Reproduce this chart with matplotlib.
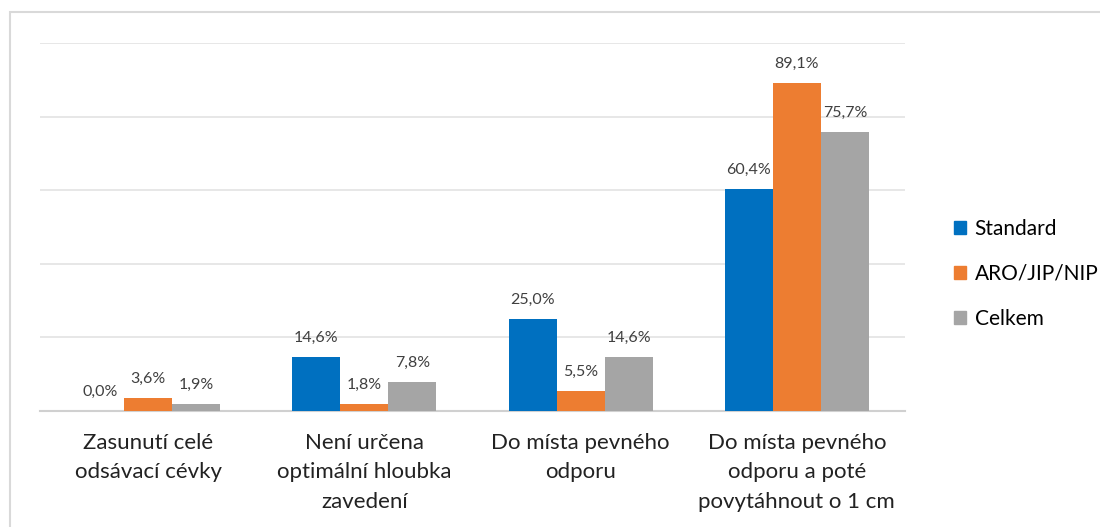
import matplotlib.pyplot as plt
import numpy as np
from matplotlib.patches import Rectangle, Patch

plt.rcParams['font.family'] = ['Lato', 'DejaVu Sans']

categories = ['Zasunutí celé\nodsávací cévky',
              'Není určena\noptimální hloubka\nzavedení',
              'Do místa pevného\nodporu',
              'Do místa pevného\nodporu a poté\npovytáhnout o 1 cm']
series = ['Standard', 'ARO/JIP/NIP', 'Celkem']
standard = [0.0, 14.6, 25.0, 60.4]
aro = [3.6, 1.8, 5.5, 89.1]
celkem = [1.9, 7.8, 14.6, 75.7]
colors = ['#0070C0', '#ED7D31', '#A5A5A5']

fig = plt.figure(figsize=(11, 5.27), dpi=100)
ax = fig.add_axes([40 / 1100, 1 - 411 / 527, 865 / 1100, 368 / 527])

# chart border (Excel style)
fig.patches.append(Rectangle((10 / 1100, -0.1), 1.2, 1 - 12 / 527 + 0.1,
                             transform=fig.transFigure, fill=False,
                             edgecolor='#D9D9D9', linewidth=1.5))

x = np.arange(len(categories))
w = 0.222
for i, (vals, col) in enumerate(zip([standard, aro, celkem], colors)):
    pos = x + (i - 1) * w
    ax.bar(pos, vals, width=w, color=col, zorder=3)
    for p, v in zip(pos, vals):
        ax.text(p, v + 3.3, f'{v:.1f}'.replace('.', ',') + '%', ha='center',
                va='bottom', fontsize=11.5, color='#404040')

ax.set_xlim(-0.5, 3.5)
ax.set_ylim(0, 100)
ax.set_yticks([0, 20, 40, 60, 80, 100])
ax.yaxis.grid(True, color='#E3E3E3', linewidth=1.2, zorder=0)
ax.tick_params(axis='y', left=False, labelleft=False)
ax.tick_params(axis='x', bottom=False, pad=12)
ax.set_xticks(x)
ax.set_xticklabels(categories, fontsize=16, color='#222222', linespacing=1.62)
for s in ['top', 'right', 'left']:
    ax.spines[s].set_visible(False)
ax.spines['bottom'].set_color('#D0D0D0')
ax.spines['bottom'].set_linewidth(1.5)

handles = [Patch(color=c) for c in colors]
fig.legend(handles, series, loc='center left', bbox_to_anchor=(946 / 1100, 1 - 274 / 527),
           frameon=False, fontsize=15, handlelength=0.58, handleheight=0.58,
           handletextpad=0.4, labelspacing=1.2, borderaxespad=0)

fig.savefig('out.png', dpi=100)
